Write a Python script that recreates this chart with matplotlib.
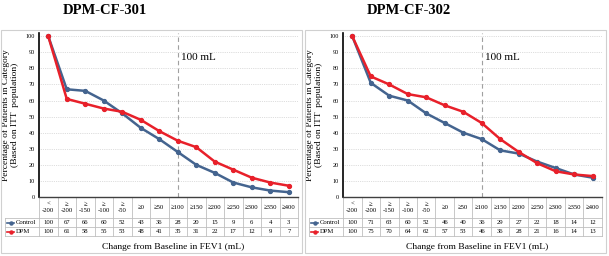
import matplotlib.pyplot as plt
from matplotlib.patches import Rectangle
from matplotlib.lines import Line2D
from matplotlib.transforms import blended_transform_factory

plt.rcParams['font.family'] = ['Liberation Serif', 'DejaVu Serif']

categories = ['<\n-200', '≥\n-200', '≥\n-150', '≥\n-100', '≥\n-50', '≥0', '≥50',
              '≥100', '≥150', '≥200', '≥250', '≥300', '≥350', '≥400']

# DPM-CF-301
control_301 = [100, 67, 66, 60, 52, 43, 36, 28, 20, 15, 9, 6, 4, 3]
dpm_301 = [100, 61, 58, 55, 53, 48, 41, 35, 31, 22, 17, 12, 9, 7]
# DPM-CF-302
control_302 = [100, 71, 63, 60, 52, 46, 40, 36, 29, 27, 22, 18, 14, 12]
dpm_302 = [100, 75, 70, 64, 62, 57, 53, 46, 36, 28, 21, 16, 14, 13]

titles = ['DPM-CF-301', 'DPM-CF-302']
blue = '#44648F'
red = '#E8202A'
grid_c = '#BFBFBF'

W, H = 609, 256
fig = plt.figure(figsize=(W / 100, H / 100), dpi=100)


def fx(x):
    return x / W


def fy(y):
    return 1 - y / H


def panel(x0, title, control, dpm):
    # outer frame
    fig.patches.append(Rectangle((fx(x0 + 1), fy(253)), fx(301), 223 / H,
                                 transform=fig.transFigure, fill=False,
                                 edgecolor='#D0D0D0', lw=0.8))
    fig.text(fx(x0 + 105), fy(11), title, ha='center', va='center',
             fontsize=10.5, fontweight='bold')

    ax = fig.add_axes([fx(x0 + 39), fy(197), fx(259), 164 / H])
    n = len(categories)
    xs = list(range(n))
    ax.plot(xs, control, color=blue, lw=1.8, marker='o', ms=2.8, zorder=3)
    ax.plot(xs, dpm, color=red, lw=1.8, marker='o', ms=2.8, zorder=4)
    ax.set_xlim(-0.5, n - 0.5)
    ax.set_ylim(0, 102)
    ax.set_yticks(range(0, 101, 10))
    ax.tick_params(axis='y', labelsize=4.5, length=0, pad=3)
    ax.set_xticks([])
    ax.grid(axis='y', color=grid_c, lw=0.5, ls=':')
    for s in ['top', 'right']:
        ax.spines[s].set_visible(False)
    ax.spines['left'].set_linewidth(1.2)
    ax.spines['bottom'].set_linewidth(1.0)
    ax.spines['bottom'].set_color('#404040')
    ax.axvline(categories.index('≥100'), color='#A0A0A0', lw=0.8, ls=(0, (4, 3)))
    ax.text(categories.index('≥100') + 0.15, 87, '100 mL', fontsize=8, va='center')

    ax.set_ylabel('Percentage of Patients in Category\n(Based on ITT  population)',
                  fontsize=6.8, linespacing=1.05, labelpad=5)

    # data table under the axis
    tr = blended_transform_factory(ax.transData, ax.transAxes)
    h = 164
    y_head = -21 / h
    y_c = -30 / h
    y_d = -39 / h
    left = -0.5 - 34 / 18.5
    for i in range(n + 1):
        ax.add_line(Line2D([i - 0.5, i - 0.5], [0, y_d], transform=tr,
                           color=grid_c, lw=0.6, clip_on=False))
    ax.add_line(Line2D([left, left], [y_head, y_d], transform=tr,
                       color=grid_c, lw=0.6, clip_on=False))
    for yy in [y_head, y_c, y_d]:
        ax.add_line(Line2D([left, n - 0.5], [yy, yy], transform=tr,
                           color=grid_c, lw=0.6, clip_on=False))
    for i, lab in enumerate(categories):
        ax.text(i, y_head / 2, lab, transform=tr, ha='center', va='center',
                fontsize=4.8, linespacing=1.3, clip_on=False)
        ax.text(i, (y_head + y_c) / 2, str(control[i]), transform=tr,
                ha='center', va='center', fontsize=4.8, clip_on=False)
        ax.text(i, (y_c + y_d) / 2, str(dpm[i]), transform=tr,
                ha='center', va='center', fontsize=4.8, clip_on=False)
    for yy0, yy1, col, name in [(y_head, y_c, blue, 'Control'), (y_c, y_d, red, 'DPM')]:
        ym = (yy0 + yy1) / 2
        ax.add_line(Line2D([left + 0.1, left + 0.5], [ym, ym], transform=tr, color=col,
                           lw=1.2, clip_on=False))
        ax.add_line(Line2D([left + 0.3], [ym], transform=tr, color=col,
                           marker='o', ms=2.2, lw=0, clip_on=False))
        ax.text(left + 0.6, ym, name, transform=tr, ha='left', va='center',
                fontsize=4.8, clip_on=False)
    fig.text(fx(x0 + 173), fy(247), 'Change from Baseline in FEV1 (mL)',
             ha='center', va='center', fontsize=6.8)
    return ax


panel(0, titles[0], control_301, dpm_301)
panel(304, titles[1], control_302, dpm_302)

fig.savefig('out.png', dpi=100)
